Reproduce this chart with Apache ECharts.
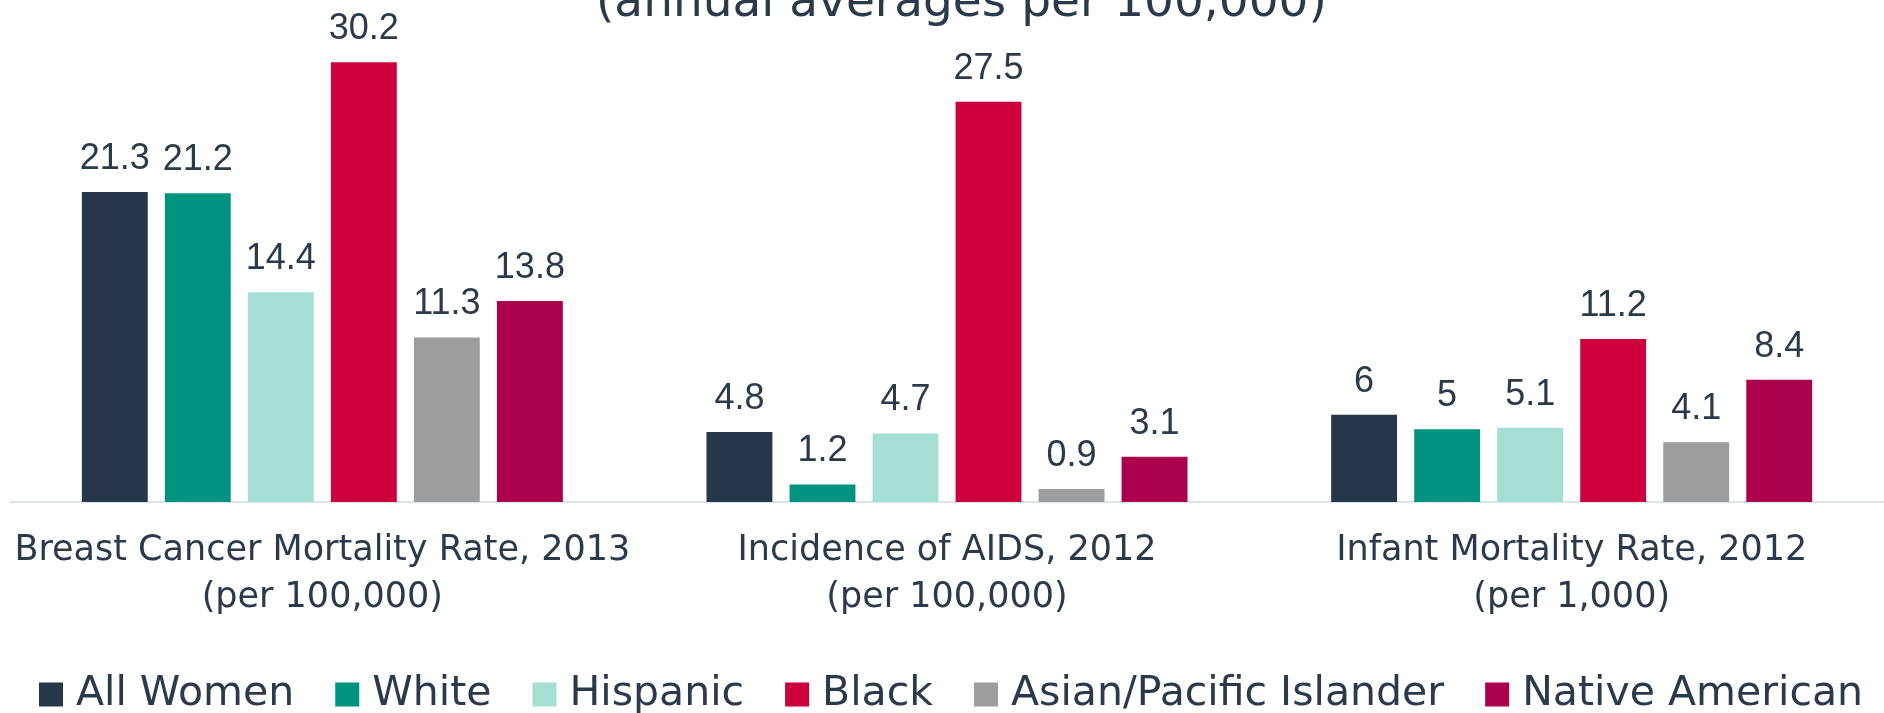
<!DOCTYPE html>
<html>
<head>
<meta charset="utf-8">
<script src="https://cdn.jsdelivr.net/npm/echarts@6/dist/echarts.min.js"></script>
<style>
  html, body { margin: 0; padding: 0; background: #ffffff; }
  #chart { width: 1884px; height: 713px; }
</style>
</head>
<body>
<div id="chart"></div>
<script>
const categories = [
  'Breast Cancer Mortality Rate, 2013\n(per 100,000)',
  'Incidence of AIDS, 2012\n(per 100,000)',
  'Infant Mortality Rate, 2012\n(per 1,000)'
];
const allWomen = [21.3, 4.8, 6];
const white = [21.2, 1.2, 5];
const hispanic = [14.4, 4.7, 5.1];
const black = [30.2, 27.5, 11.2];
const asianPacific = [11.3, 0.9, 4.1];
const nativeAmerican = [13.8, 3.1, 8.4];

const seriesDefs = [
  { name: 'All Women', data: allWomen, color: '#27374a' },
  { name: 'White', data: white, color: '#009380' },
  { name: 'Hispanic', data: hispanic, color: '#a5dfd4' },
  { name: 'Black', data: black, color: '#cc003d' },
  { name: 'Asian/Pacific Islander', data: asianPacific, color: '#9d9d9d' },
  { name: 'Native American', data: nativeAmerican, color: '#ab004c' }
];

const textColor = '#2b3a4b';
const chart = echarts.init(document.getElementById('chart'));

const option = {
  backgroundColor: '#ffffff',
  animation: false,
  title: {
    text: '(annual averages per 100,000)',
    left: 591,
    top: -25,
    textStyle: {
      fontFamily: 'DejaVu Sans',
      fontWeight: 'normal',
      fontSize: 47,
      lineHeight: 47,
      color: textColor
    }
  },
  legend: {
    top: 669,
    left: 34,
    itemWidth: 24,
    itemHeight: 24,
    itemGap: 41,
    icon: 'rect',
    textStyle: {
      fontFamily: 'DejaVu Sans',
      fontSize: 41,
      lineHeight: 41,
      color: textColor,
      padding: [0, 0, 0, 8]
    }
  },
  grid: {
    left: 10,
    top: 7,
    width: 1881,
    height: 495,
    containLabel: false
  },
  xAxis: {
    type: 'category',
    data: categories,
    axisTick: { show: false },
    axisLine: {
      lineStyle: { color: '#dce4ed', width: 2 }
    },
    axisLabel: {
      margin: 25,
      fontFamily: 'DejaVu Sans',
      fontSize: 35,
      lineHeight: 47,
      color: textColor,
      interval: 0
    }
  },
  yAxis: {
    type: 'value',
    min: 0,
    max: 34,
    show: false,
    splitLine: { show: false }
  },
  series: seriesDefs.map(s => ({
    name: s.name,
    type: 'bar',
    data: s.data,
    barGap: '26%',
    barCategoryGap: '23%',
    itemStyle: { color: s.color },
    label: {
      show: true,
      position: 'top',
      distance: 15,
      fontFamily: 'Liberation Sans',
      fontSize: 36,
      lineHeight: 36,
      color: textColor
    }
  }))
};

chart.setOption(option);
</script>
</body>
</html>
